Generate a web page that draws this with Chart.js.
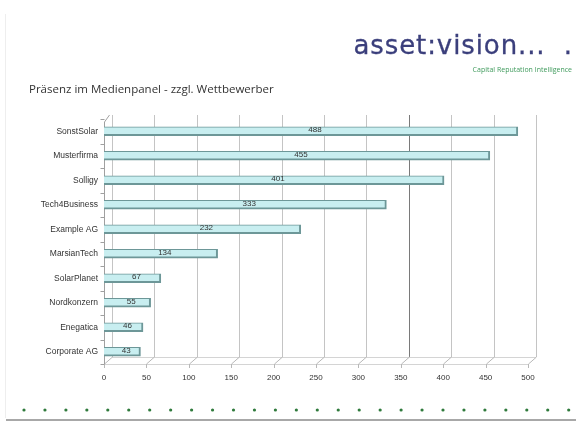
<!DOCTYPE html>
<html><head><meta charset="utf-8">
<script src="https://cdn.jsdelivr.net/npm/chart.js@4/dist/chart.umd.min.js"></script>
<style>
html,body{margin:0;padding:0;background:#fff;width:576px;height:423px;overflow:hidden;}
#wrap{position:relative;width:576px;height:423px;}
canvas{position:absolute;left:0;top:0;}
.t{position:absolute;white-space:nowrap;}
#title{left:29px;top:81px;font-family:"Open Sans",sans-serif;font-size:11.5px;color:#333;}
#logo{right:3px;top:30px;font-family:"DejaVu Sans",sans-serif;font-size:26px;color:#3b3f7c;letter-spacing:0.9px;-webkit-text-stroke:0.3px #3b3f7c;}
#tag{right:4px;top:65px;font-family:"Open Sans",sans-serif;font-size:7px;color:#3f9a5c;}
#border{position:absolute;left:5px;top:14px;width:1px;height:404px;background:#eeeeee;}
#bottom{position:absolute;left:6px;top:419px;width:570px;height:2px;background:#a8a8a8;}
</style></head>
<body><div id="wrap">
<div id="border"></div>
<canvas id="c" width="576" height="423"></canvas>
<div class="t" id="title">Präsenz im Medienpanel - zzgl. Wettbewerber</div>
<div class="t" id="logo">asset:vision...&nbsp; .</div>
<div class="t" id="tag">Capital Reputation Intelligence</div>
<div id="bottom"></div>
</div>
<script>
const categories = ["SonstSolar","Musterfirma","Solligy","Tech4Business","Example AG","MarsianTech","SolarPlanet","Nordkonzern","Enegatica","Corporate AG"];
const values = [488,455,401,333,232,134,67,55,46,43];
const xTicks = [0,50,100,150,200,250,300,350,400,450,500];

const DX = 8, DY = 7;
const wallPlugin = {
  id:'wall3d',
  beforeDatasetsDraw(chart){
    const {ctx, chartArea:a, scales:{x,y}} = chart;
    ctx.save();
    ctx.lineWidth = 1;
    const top = a.top - 4, bot = a.bottom;
    ctx.strokeStyle = '#d4d4d4';
    ctx.beginPath();
    ctx.moveTo(x.getPixelForValue(0)+DX, bot-DY+0.5); ctx.lineTo(x.getPixelForValue(500)+DX, bot-DY+0.5);
    ctx.moveTo(x.getPixelForValue(0), bot+0.5); ctx.lineTo(x.getPixelForValue(500), bot+0.5);
    ctx.stroke();
    xTicks.forEach(v=>{
      const px = Math.round(x.getPixelForValue(v))+0.5;
      ctx.strokeStyle = v===350 ? '#7a7a7a' : '#c4c4c4';
      ctx.beginPath();
      ctx.moveTo(px+DX, top); ctx.lineTo(px+DX, bot-DY);
      ctx.stroke();
      ctx.strokeStyle = '#b8b8b8';
      ctx.beginPath();
      ctx.moveTo(px+DX, bot-DY); ctx.lineTo(px, bot); ctx.lineTo(px, bot+4);
      ctx.stroke();
    });
    const lx = Math.round(x.getPixelForValue(0))+0.5;
    ctx.strokeStyle = '#a0a0a0';
    ctx.beginPath();
    ctx.moveTo(lx, top+DY); ctx.lineTo(lx, bot);
    ctx.moveTo(lx, top+DY); ctx.lineTo(lx+DX-3, top);
    ctx.stroke();
    for(let i=0;i<=categories.length;i++){
      const yy = Math.round(a.top + i*(a.bottom-a.top)/categories.length)+0.5;
      ctx.beginPath(); ctx.moveTo(lx-4, yy); ctx.lineTo(lx, yy); ctx.stroke();
    }
    ctx.restore();
  },
  afterDatasetsDraw(chart){
    const {ctx} = chart;
    const meta = chart.getDatasetMeta(0);
    ctx.save();
    ctx.font = '8px "Liberation Sans", Arial, sans-serif';
    ctx.fillStyle = '#333';
    ctx.textAlign = 'center';
    ctx.textBaseline = 'middle';
    meta.data.forEach((bar,i)=>{
      const cx = (bar.base + bar.x)/2 + 4;
      ctx.fillText(String(values[i]), cx, bar.y - 1);
    });
    ctx.fillStyle = '#2f7a3c';
    for(let i=0;i<27;i++){
      ctx.beginPath();
      ctx.arc(24 + i*20.95, 410, 1.6, 0, Math.PI*2);
      ctx.fill();
    }
    ctx.restore();
  }
};

new Chart(document.getElementById('c'), {
  type:'bar',
  data:{
    labels: categories,
    datasets:[{
      data: values,
      backgroundColor(ctx){
        const ch = ctx.chart, el = ctx.element;
        if(!el || !Number.isFinite(el.y)) return '#c8eef0';
        const g = ch.ctx.createLinearGradient(0, el.y-4.5, 0, el.y+4.5);
        g.addColorStop(0,'#e4fafa');
        g.addColorStop(0.5,'#c4eef0');
        g.addColorStop(1,'#a6dde0');
        return g;
      },
      borderColor:'#6d9798',
      borderWidth:{top:1,left:0,right:2,bottom:2},
      borderSkipped:false,
      barThickness:9
    }]
  },
  options:{
    indexAxis:'y',
    responsive:false,
    animation:false,
    devicePixelRatio:1,
    layout:{padding:{top:119,right:48,left:0,bottom:0}},
    plugins:{legend:{display:false},tooltip:{enabled:false}},
    scales:{
      x:{
        min:0,max:500,
        afterBuildTicks(s){ s.ticks = xTicks.map(v=>({value:v})); },
        grid:{display:false,drawTicks:false},
        border:{display:false},
        ticks:{padding:9,color:'#333',font:{family:'"Liberation Sans", Arial, sans-serif',size:8}},
        afterFit(s){ s.height = 59; }
      },
      y:{
        grid:{display:false,drawTicks:false},
        border:{display:false},
        ticks:{padding:6,color:'#333',font:{family:'"Liberation Sans", Arial, sans-serif',size:8.5}},
        afterFit(s){ s.width = 104; }
      }
    }
  },
  plugins:[wallPlugin]
});
</script>
</body></html>
